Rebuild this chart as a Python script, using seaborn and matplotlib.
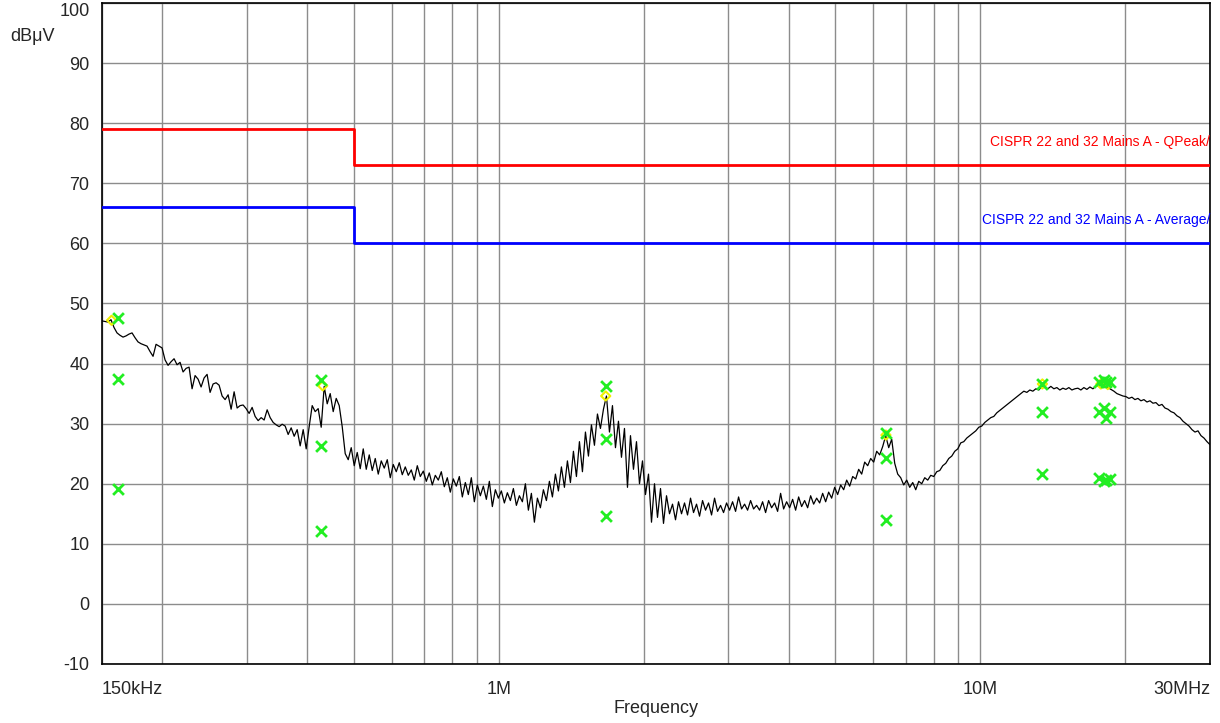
import numpy as np
import pandas as pd
import matplotlib
matplotlib.use("Agg")
import matplotlib.pyplot as plt
import matplotlib.ticker as mticker
import seaborn as sns

# Trace levels (dBuV) read from the sweep, 150 kHz -> 30 MHz on a log grid
level_dbuv = [
    47.1, 47.0, 46.9, 47.3, 46.0, 45.1, 44.7, 44.4, 44.6, 44.9,
    45.1, 44.3, 43.6, 43.3, 43.1, 42.9, 42.0, 41.2, 43.2, 42.9,
    42.6, 40.6, 39.7, 40.3, 40.8, 39.8, 40.2, 38.6, 39.2, 39.4,
    35.8, 38.0, 37.4, 36.1, 37.6, 38.2, 35.2, 36.6, 36.8, 36.4,
    34.6, 34.0, 34.8, 32.4, 35.3, 32.6, 33.0, 33.1, 32.5, 31.7,
    32.7, 31.2, 30.5, 31.0, 30.6, 32.3, 31.0, 30.2, 29.8, 29.5,
    29.9, 29.6, 28.2, 29.3, 27.9, 29.0, 26.3, 29.0, 25.8, 29.5,
    33.0, 32.0, 32.5, 29.4, 36.2, 33.3, 35.0, 32.0, 34.2, 33.0,
    29.5, 25.0, 24.0, 26.0, 23.0, 25.2, 22.5, 25.8, 22.4, 24.8,
    22.2, 24.2, 21.6, 23.8, 22.6, 24.0, 21.0, 23.2, 22.0, 23.5,
    21.5, 22.8, 21.4, 22.3, 20.6, 23.0, 21.2, 22.1, 20.4, 21.8,
    19.8, 21.4, 20.6, 22.0, 19.5, 21.0, 18.6, 20.8, 19.6, 21.2,
    17.8, 20.2, 18.2, 21.0, 17.0, 19.8, 18.0, 19.6, 17.4, 20.4,
    16.2, 19.0, 17.6, 18.8, 16.8, 18.5, 17.2, 19.2, 16.4, 18.0,
    17.0, 20.0, 15.6, 18.4, 13.6, 17.6, 16.0, 19.0, 17.2, 20.4,
    17.8, 21.6, 18.8, 22.8, 19.4, 23.8, 20.2, 25.4, 21.2, 27.0,
    22.0, 28.6, 24.6, 29.8, 26.4, 31.6, 29.2, 32.4, 34.6, 28.6,
    33.0, 26.0, 30.4, 24.4, 29.2, 19.4, 28.0, 22.4, 27.0, 20.0,
    23.8, 18.2, 21.6, 13.6, 20.0, 14.4, 19.2, 13.4, 18.0, 15.0,
    16.6, 14.0, 17.0, 15.0, 16.8, 14.8, 17.6, 15.2, 16.6, 14.6,
    17.2, 15.6, 16.8, 14.8, 17.6, 15.4, 16.4, 15.2, 16.8, 15.6,
    17.0, 15.4, 17.8, 15.8, 16.6, 15.6, 17.2, 15.8, 16.4, 15.6,
    17.0, 15.2, 17.2, 16.0, 16.8, 15.4, 18.4, 15.8, 17.0, 16.0,
    17.4, 15.6, 17.8, 16.2, 17.2, 16.0, 18.0, 16.6, 17.6, 16.8,
    18.4, 17.0, 18.6, 17.6, 19.4, 18.2, 19.8, 19.0, 20.6, 19.6,
    21.2, 20.8, 22.4, 21.6, 23.6, 23.0, 24.2, 23.6, 25.4, 24.8,
    26.2, 28.0, 26.0, 27.4, 23.4, 21.6, 21.0, 19.8, 20.6, 19.4,
    20.2, 19.0, 20.4, 20.0, 21.0, 20.6, 21.4, 21.2, 22.0, 22.2,
    23.0, 23.4, 24.2, 24.6, 25.4, 25.8, 26.8, 27.0, 27.6, 28.0,
    28.4, 28.8, 29.4, 29.6, 30.2, 30.6, 31.0, 31.2, 31.8, 32.2,
    32.6, 33.0, 33.4, 33.8, 34.2, 34.6, 35.0, 35.4, 35.2, 35.6,
    35.4, 35.8, 35.6, 36.2, 36.0, 35.8, 36.2, 35.8, 36.0, 35.6,
    35.9, 35.7, 36.0, 35.6, 35.8, 35.9, 35.6, 36.0, 35.7, 36.1,
    35.8, 36.2, 36.4, 36.6, 36.3, 36.0, 35.7, 35.4, 35.0, 34.8,
    34.6, 34.5, 34.2, 34.4, 34.0, 34.2, 33.8, 34.0, 33.6, 33.8,
    33.4, 33.5, 33.0, 33.2, 32.6, 32.4, 32.0, 31.8, 31.3, 31.0,
    30.4, 30.0, 29.6, 29.0, 28.6, 28.8, 28.0, 27.6, 27.0, 26.5,
]
freq_mhz = np.geomspace(0.15, 30.0, len(level_dbuv))

# Limit lines (step at 500 kHz)
limit_freq = [0.15, 0.5, 0.5, 30.0]
qpeak_limit = [79, 79, 73, 73]
avg_limit = [66, 66, 60, 60]

# Final measurement results (green crosses)
meas_freq = [0.162, 0.427, 1.668, 6.37, 13.46, 17.64, 18.06, 18.24, 18.6]
meas_top = [47.6, 37.2, 36.3, 28.5, 36.6, 37.0, 37.2, 36.9, 36.9]
meas_mid = [37.4, 26.3, 27.5, 24.2, 32.0, 32.0, 32.6, 31.0, 32.0]
meas_low = [19.1, 12.2, 14.6, 14.0, 21.6, 21.0, 20.5, 20.6, 20.8]

# Peak markers (yellow diamonds)
peak_freq = [0.157, 0.431, 1.668, 6.37, 13.46, 17.8, 18.4]
peak_level = [47.2, 36.3, 34.6, 28.1, 36.6, 36.6, 36.5]

trace = pd.DataFrame({"freq": freq_mhz, "level": level_dbuv})
limits = pd.DataFrame({"freq": limit_freq, "qp": qpeak_limit, "avg": avg_limit})
meas = pd.DataFrame({
    "freq": meas_freq * 3,
    "level": meas_top + meas_mid + meas_low,
})
peaks = pd.DataFrame({"freq": peak_freq, "level": peak_level})

sns.set_style("white")
plt.rcParams["font.family"] = ["Liberation Sans", "DejaVu Sans"]
plt.rcParams["axes.unicode_minus"] = False

fig = plt.figure(figsize=(12.2, 7.23), dpi=100)
ax = fig.add_axes([102 / 1220, 1 - 664 / 723, 1108 / 1220, 661 / 723])
ax.set_xscale("log")

sns.lineplot(data=limits, x="freq", y="qp", ax=ax, color="#ff0000", lw=2,
             sort=False, estimator=None, zorder=3)
sns.lineplot(data=limits, x="freq", y="avg", ax=ax, color="#0000ff", lw=2,
             sort=False, estimator=None, zorder=3)
sns.lineplot(data=trace, x="freq", y="level", ax=ax, color="black", lw=0.9,
             sort=False, estimator=None, zorder=4)
sns.scatterplot(data=peaks, x="freq", y="level", ax=ax, marker="D", s=22,
                facecolor="none", edgecolor="#f0f000", linewidth=1.5, zorder=5)
sns.scatterplot(data=meas, x="freq", y="level", ax=ax, marker="x", s=60,
                color="#22ee22", linewidth=2, zorder=6)

ax.set_xlim(0.15, 30)
ax.set_ylim(-10, 100)

# Grid
ax.xaxis.set_major_locator(mticker.FixedLocator([0.15, 1, 10, 30]))
ax.xaxis.set_major_formatter(mticker.FixedFormatter(["150kHz", "1M", "10M", "30MHz"]))
ax.xaxis.set_minor_locator(mticker.LogLocator(base=10, subs=np.arange(2, 10), numticks=20))
ax.xaxis.set_minor_formatter(mticker.NullFormatter())
ax.set_yticks(np.arange(-10, 101, 10))
ax.grid(True, which="both", axis="x", color="#8c8c8c", lw=1)
ax.grid(True, which="major", axis="y", color="#8c8c8c", lw=1)
ax.set_axisbelow(True)
ax.tick_params(axis="x", which="minor", length=0)
ax.tick_params(axis="x", which="major", length=10, width=1, direction="out",
               labelsize=13, pad=2, color="black")
ax.tick_params(axis="y", length=5, width=1, direction="out", labelsize=13,
               pad=4, color="black")
xlabels = ax.get_xticklabels()
xlabels[0].set_horizontalalignment("left")
xlabels[-1].set_horizontalalignment("right")
ylabels = ax.get_yticklabels()
ylabels[-1].set_verticalalignment("top")

for sp in ax.spines.values():
    sp.set_color("black")
    sp.set_linewidth(1.2)
    sp.set_visible(True)

ax.set_xlabel("Frequency", fontsize=13, labelpad=2)
ax.set_ylabel("")
fig.text(0.008, 0.949, "dBμV", fontsize=13, va="center", ha="left")

ax.text(30, 76.9, "CISPR 22 and 32 Mains A - QPeak/", color="#ff0000",
        fontsize=10, ha="right", va="center")
ax.text(30, 63.9, "CISPR 22 and 32 Mains A - Average/", color="#0000ff",
        fontsize=10, ha="right", va="center")

fig.savefig("out.png", dpi=100)
